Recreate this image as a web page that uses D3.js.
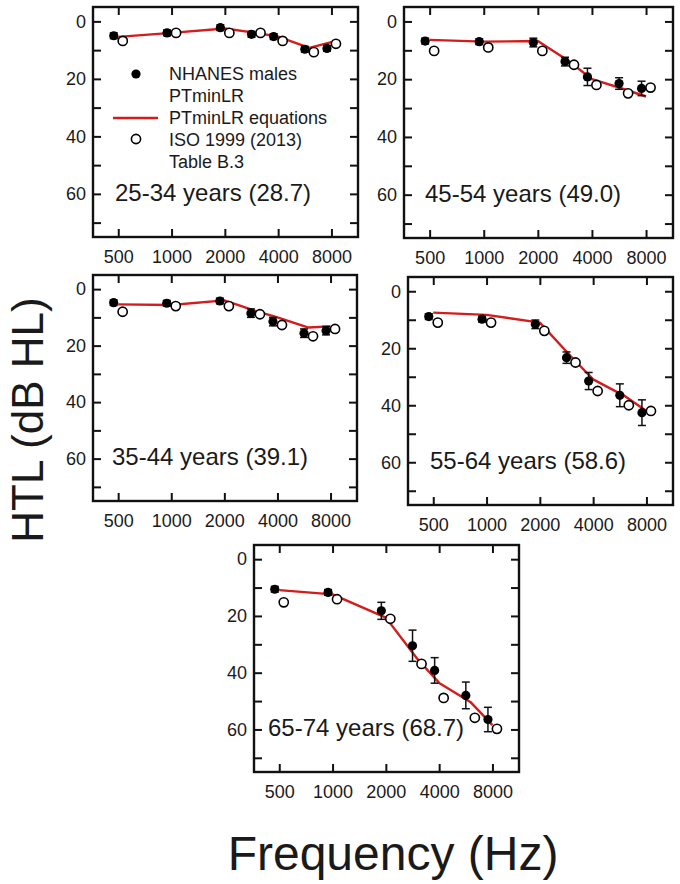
<!DOCTYPE html>
<html>
<head>
<meta charset="utf-8">
<script src="https://cdn.jsdelivr.net/npm/d3@7"></script>
<style>
  html, body { margin: 0; padding: 0; background: #fff; }
  svg text { font-family: "Liberation Sans", Arial, Helvetica, sans-serif; fill: #1a1a1a; }
</style>
</head>
<body>
<svg id="chart" width="680" height="884"></svg>
<script>
// ---------- data ----------
const frequencies = [500, 1000, 2000, 3000, 4000, 6000, 8000];
const xTickValues = [500, 1000, 2000, 4000, 8000];
const xTickLabels = ["500", "1000", "2000", "4000", "8000"];
const yTickValues = [0, 20, 40, 60];
const yMinorTicks = [10, 30, 50, 70];
const panelTitles = ["25-34 years (28.7)", "45-54 years (49.0)", "35-44 years (39.1)", "55-64 years (58.6)", "65-74 years (68.7)"];
const legendLabels = [["NHANES males", "PTminLR"], ["PTminLR equations"], ["ISO 1999 (2013)", "Table B.3"]];

// 25-34 years
const nhanes2534 = [5.0, 4.0, 2.2, 4.5, 5.3, 9.7, 9.4];
const err2534    = [1, 1, 1, 1, 1, 1, 1];
const fit2534    = [5.4, 4.0, 2.5, 4.0, 5.3, 9.2, 7.2];
const iso2534    = [6.8, 4.0, 4.0, 4.0, 6.8, 10.7, 7.8];
// 45-54 years
const nhanes4554 = [6.8, 7.0, 7.3, 13.9, 19.2, 21.5, 23.2];
const err4554    = [1, 1, 1.5, 1.5, 3, 2, 2.5];
const fit4554    = [6.4, 7.0, 6.8, 13.9, 20.0, 23.4, 26.0];
const iso4554    = [10.2, 9.0, 10.2, 15.0, 22.0, 24.9, 22.9];
// 35-44 years
const nhanes3544 = [4.8, 5.0, 4.2, 8.5, 11.5, 15.6, 14.7];
const err3544    = [1, 1, 1, 1.5, 1.5, 1.5, 1.5];
const fit3544    = [5.4, 5.6, 4.0, 7.7, 10.0, 13.6, 13.2];
const iso3544    = [8.0, 6.0, 6.0, 8.9, 12.7, 16.7, 14.1];
// 55-64 years
const nhanes5564 = [8.9, 9.8, 11.6, 23.3, 31.5, 36.5, 42.6];
const err5564    = [1, 1, 1.5, 2, 3, 4, 4.5];
const fit5564    = [7.5, 8.3, 11.0, 22.9, 30.9, 36.7, 42.0];
const iso5564    = [11.0, 11.0, 13.9, 25.0, 35.0, 40.0, 42.0];
// 65-74 years
const nhanes6574 = [10.6, 11.7, 18.2, 30.5, 39.2, 48.0, 56.5];
const err6574    = [1, 1, 3, 5.5, 4.5, 4.7, 4.3];
const fit6574    = [10.9, 12.4, 20.6, 35.0, 43.6, 50.3, 58.5];
const iso6574    = [15.2, 14.1, 21.0, 36.9, 48.9, 55.9, 59.8];

// ---------- layout ----------
const RED = "#d41c1c";
const svg = d3.select("#chart");

const panels = [
  { title: panelTitles[0], nh: nhanes2534, err: err2534, fit: fit2534, iso: iso2534, x: 93,  y: 7,   w: 265, h: 230, lx: 22, legend: true },
  { title: panelTitles[1], nh: nhanes4554, err: err4554, fit: fit4554, iso: iso4554, x: 404, y: 7,   w: 269, h: 231, lx: 21 },
  { title: panelTitles[2], nh: nhanes3544, err: err3544, fit: fit3544, iso: iso3544, x: 93,  y: 275, w: 264, h: 226, lx: 19 },
  { title: panelTitles[3], nh: nhanes5564, err: err5564, fit: fit5564, iso: iso5564, x: 408, y: 277, w: 265, h: 228, lx: 22 },
  { title: panelTitles[4], nh: nhanes6574, err: err6574, fit: fit6574, iso: iso6574, x: 254, y: 545, w: 265, h: 227, lx: 14 }
];

panels.forEach(p => {
  const g = svg.append("g").attr("transform", `translate(${p.x},${p.y})`);
  const x = d3.scaleLog().domain([360, 11300]).range([0, p.w]);
  const y = d3.scaleLinear().domain([-5, 75]).range([0, p.h]);

  const TICK = 8;
  const bottom = g.append("g").attr("transform", `translate(0,${p.h})`)
    .call(d3.axisBottom(x).tickValues(xTickValues).tickFormat((d, i) => xTickLabels[i])
      .tickSize(-TICK).tickPadding(13));
  const top = g.append("g")
    .call(d3.axisTop(x).tickValues(xTickValues).tickFormat("").tickSize(-TICK));
  const left = g.append("g")
    .call(d3.axisLeft(y).tickValues(yTickValues.concat(yMinorTicks))
      .tickFormat(d => yTickValues.includes(d) ? d : "").tickSize(-TICK).tickPadding(7));
  const right = g.append("g").attr("transform", `translate(${p.w},0)`)
    .call(d3.axisRight(y).tickValues(yTickValues.concat(yMinorTicks)).tickFormat("").tickSize(-TICK));
  [bottom, top, left, right].forEach(a => {
    a.select(".domain").remove();
    a.selectAll(".tick line").attr("stroke", "#111").attr("stroke-width", 2);
    a.selectAll(".tick text").attr("font-size", 18).attr("fill", "#1a1a1a")
      .style("font-family", '"Liberation Sans", Arial, sans-serif');
  });

  g.append("rect").attr("x", 0).attr("y", 0).attr("width", p.w).attr("height", p.h)
    .attr("fill", "none").attr("stroke", "#111").attr("stroke-width", 2.4);

  const line = d3.line().x((d, i) => x(frequencies[i])).y(d => y(d));
  g.append("path").datum(p.fit).attr("d", line)
    .attr("fill", "none").attr("stroke", RED).attr("stroke-width", 2.4).attr("stroke-linejoin", "round");

  const OFF = 4.5;
  const eb = g.append("g").attr("stroke", "#111").attr("stroke-width", 1.5);
  p.nh.forEach((v, i) => {
    const cx = x(frequencies[i]) - OFF;
    const y1 = y(v - p.err[i]), y2 = y(v + p.err[i]);
    eb.append("line").attr("x1", cx).attr("x2", cx).attr("y1", y1).attr("y2", y2);
    eb.append("line").attr("x1", cx - 4).attr("x2", cx + 4).attr("y1", y1).attr("y2", y1);
    eb.append("line").attr("x1", cx - 4).attr("x2", cx + 4).attr("y1", y2).attr("y2", y2);
  });
  g.append("g").selectAll("circle").data(p.nh).join("circle")
    .attr("cx", (d, i) => x(frequencies[i]) - OFF).attr("cy", d => y(d)).attr("r", 4.6)
    .attr("fill", "#000");
  g.append("g").selectAll("circle").data(p.iso).join("circle")
    .attr("cx", (d, i) => x(frequencies[i]) + OFF).attr("cy", d => y(d)).attr("r", 4.6)
    .attr("fill", "#fff").attr("stroke", "#000").attr("stroke-width", 1.6);

  g.append("text").attr("x", p.lx).attr("y", p.h - 36).attr("font-size", 24).text(p.title);

  if (p.legend) {
    const L = g.append("g");
    const fs = 18;
    L.append("circle").attr("cx", 43).attr("cy", 67).attr("r", 4.6).attr("fill", "#000");
    L.append("text").attr("x", 76).attr("y", 73).attr("font-size", fs).text(legendLabels[0][0]);
    L.append("text").attr("x", 76).attr("y", 95).attr("font-size", fs).text(legendLabels[0][1]);
    L.append("line").attr("x1", 20).attr("x2", 65).attr("y1", 111).attr("y2", 111)
      .attr("stroke", RED).attr("stroke-width", 2.4);
    L.append("text").attr("x", 76).attr("y", 117).attr("font-size", fs).text(legendLabels[1][0]);
    L.append("circle").attr("cx", 43).attr("cy", 132).attr("r", 4.6)
      .attr("fill", "#fff").attr("stroke", "#000").attr("stroke-width", 1.6);
    L.append("text").attr("x", 76).attr("y", 139).attr("font-size", fs).text(legendLabels[2][0]);
    L.append("text").attr("x", 76).attr("y", 161).attr("font-size", fs).text(legendLabels[2][1]);
  }
});

svg.append("text").attr("transform", "translate(43,420) rotate(-90)")
  .attr("text-anchor", "middle").attr("font-size", 44).text("HTL (dB HL)");
svg.append("text").attr("x", 393).attr("y", 870)
  .attr("text-anchor", "middle").attr("font-size", 48).text("Frequency (Hz)");
</script>
</body>
</html>
